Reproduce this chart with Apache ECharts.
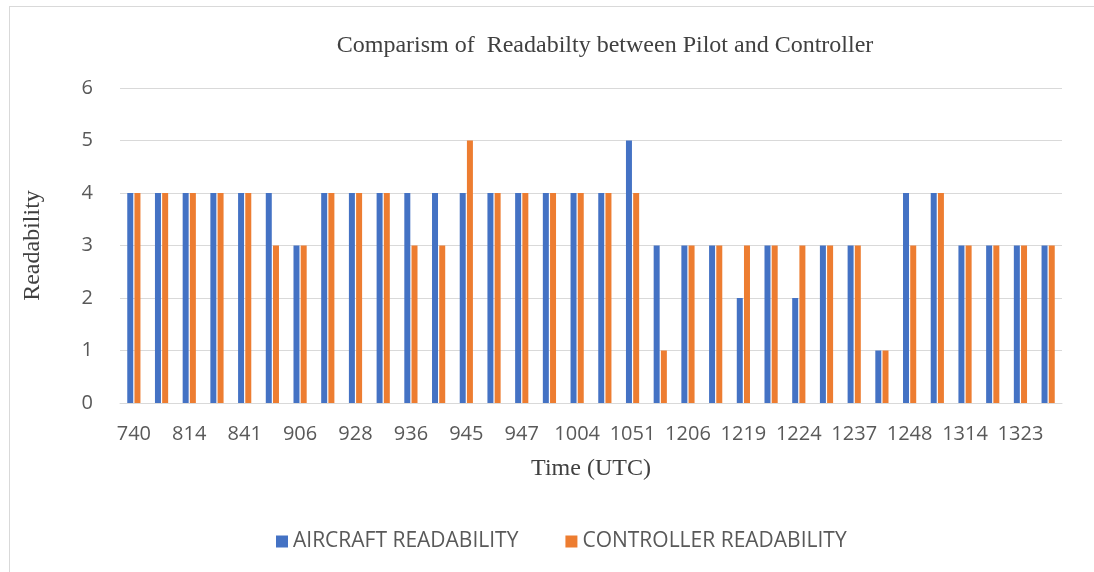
<!DOCTYPE html>
<html>
<head>
<meta charset="utf-8">
<script src="https://cdn.jsdelivr.net/npm/echarts@6/dist/echarts.min.js"></script>
<style>
    html, body { margin: 0; padding: 0; background: #fff; }
    .frame {
        position: absolute; left: 9px; top: 6px; width: 1100px; height: 580px;
        border: 1px solid #d9d9d9; box-sizing: border-box;
    }
    #chart { position: absolute; left: 0; top: 0; width: 1094px; height: 572px; }
</style>
</head>
<body>
<div class="frame"></div>
<div id="chart"></div>
<script>
// categories (every other label is shown, as in the original)
const times = ['740', '745', '814', '830', '841', '900', '906', '920', '928', '930',
    '936', '940', '945', '946', '947', '950', '1004', '1040', '1051', '1200',
    '1206', '1210', '1219', '1220', '1224', '1230', '1237', '1245', '1248', '1300',
    '1314', '1320', '1323', '1330']
const aircraft = [4, 4, 4, 4, 4, 4, 3, 4, 4, 4, 4, 4, 4, 4, 4, 4, 4, 4, 5, 3,
    3, 3, 2, 3, 2, 3, 3, 1, 4, 4, 3, 3, 3, 3]
const controller = [4, 4, 4, 4, 4, 3, 3, 4, 4, 4, 3, 3, 5, 4, 4, 4, 4, 4, 4, 1,
    3, 3, 3, 3, 3, 3, 3, 1, 3, 4, 3, 3, 3, 3]
const yTicks = [0, 1, 2, 3, 4, 5, 6]

let labelColor = '#595959'
let gridColor = '#d9d9d9'
let serif = '"Liberation Serif", "DejaVu Serif", serif'
let sans = '"Open Sans", "Noto Sans", sans-serif'

let option = {
    animation: false,
    title: {
        text: 'Comparism of  Readabilty between Pilot and Controller',
        left: 600,
        top: 29,
        textAlign: 'center',
        textStyle: {
            fontFamily: serif,
            fontWeight: 'normal',
            fontSize: 24,
            color: '#404040'
        }
    },
    legend: {
        data: ['AIRCRAFT READABILITY', 'CONTROLLER READABILITY'],
        top: 526,
        left: 271,
        icon: 'rect',
        itemWidth: 12,
        itemHeight: 12,
        itemGap: 47,
        textStyle: {
            color: labelColor,
            fontSize: 21,
            fontFamily: sans
        }
    },
    grid: {
        left: 120,
        right: 32,
        top: 88,
        bottom: 169
    },
    xAxis: {
        type: 'category',
        data: times,
        name: 'Time (UTC)',
        nameLocation: 'middle',
        nameGap: 54,
        nameTextStyle: {
            fontFamily: serif,
            fontSize: 24,
            color: '#404040'
        },
        axisTick: { show: false },
        axisLine: { lineStyle: { color: gridColor, width: 1 } },
        axisLabel: {
            interval: 1,
            color: labelColor,
            fontSize: 20,
            fontFamily: sans,
            margin: 21
        }
    },
    yAxis: {
        type: 'value',
        min: yTicks[0],
        max: yTicks[yTicks.length - 1],
        interval: 1,
        name: 'Readability',
        nameLocation: 'middle',
        nameGap: 75,
        nameTextStyle: {
            fontFamily: serif,
            fontSize: 24,
            color: '#404040'
        },
        axisLine: { show: false },
        axisTick: { show: false },
        axisLabel: {
            color: labelColor,
            fontSize: 20,
            fontFamily: sans,
            margin: 27
        },
        splitLine: {
            lineStyle: { color: gridColor, width: 1 }
        }
    },
    series: [{
        name: 'AIRCRAFT READABILITY',
        type: 'bar',
        data: aircraft,
        barWidth: 6,
        barGap: '20%',
        itemStyle: { color: '#4472C4' }
    }, {
        name: 'CONTROLLER READABILITY',
        type: 'bar',
        data: controller,
        barWidth: 6,
        barGap: '20%',
        itemStyle: { color: '#ED7D31' }
    }]
}

var myChart = echarts.init(document.getElementById('chart'))
myChart.setOption(option)
</script>
</body>
</html>
